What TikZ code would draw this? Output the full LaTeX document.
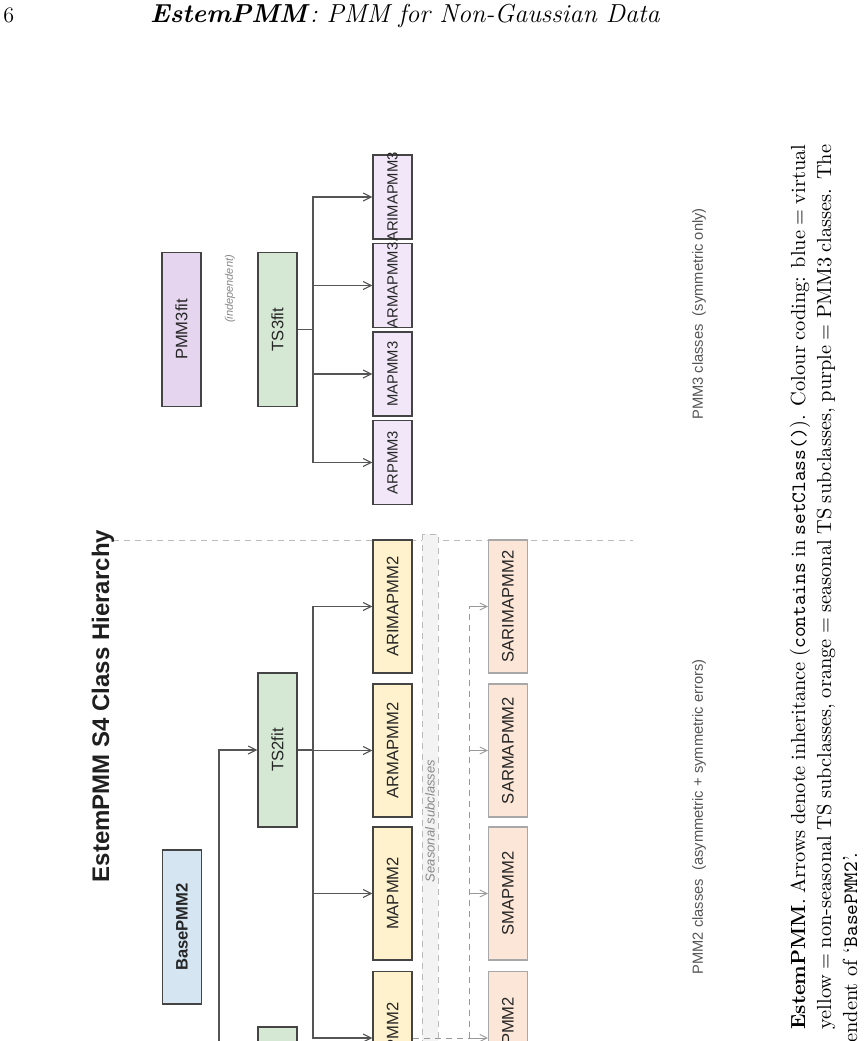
\documentclass[tikz,border=0pt]{standalone}
\usepackage{fontspec}
\newfontfamily\figsans{Liberation Sans}
\usetikzlibrary{arrows.meta}
\definecolor{cblue}{HTML}{D5E5F2}
\definecolor{cgreen}{HTML}{D5E8D4}
\definecolor{cyellow}{HTML}{FFF2CC}
\definecolor{cpurple}{HTML}{E6D5EE}
\definecolor{clav}{HTML}{F1E7F8}
\definecolor{corange}{HTML}{FCE6D7}
\definecolor{cline}{HTML}{555555}
\definecolor{cbox}{HTML}{444444}
\definecolor{cobox}{HTML}{A8A8A8}
\definecolor{cband}{HTML}{F3F3F3}
\definecolor{cbandline}{HTML}{BBBBBB}
\definecolor{cgraytext}{HTML}{888888}
\definecolor{clabel}{HTML}{555555}
\definecolor{csarr}{HTML}{999999}
\newcommand\zc[1]{\makebox[0pt]{#1}}
\begin{document}
\begin{tikzpicture}[x=0.5pt,y=-0.5pt,
  box/.style={draw=cbox, line width=0.65pt, rotate=90, inner sep=0pt,
    minimum height=19.5pt, text=black!85, font=\figsans\fontsize{8.3}{10}\selectfont},
  topb/.style={box, minimum width=77pt},
  midb/.style={box, fill=cgreen, minimum width=77pt},
  leaftwo/.style={box, fill=cyellow, minimum width=66.5pt},
  seasb/.style={box, fill=corange, draw=cobox, minimum width=66.5pt},
  leafthree/.style={box, fill=clav, minimum width=42pt, font=\figsans\fontsize{7.4}{9}\selectfont},
  arr/.style={draw=cline, line width=0.55pt, -{Straight Barb[length=4pt,width=4pt]}},
  conn/.style={draw=cline, line width=0.55pt},
  sdash/.style={draw=csarr, line width=0.45pt, dash pattern=on 3pt off 2.5pt},
  sarr/.style={draw=csarr, line width=0.45pt, -{Straight Barb[length=3.5pt,width=3.5pt]}},
  sepline/.style={draw=cbandline, line width=0.5pt, dash pattern=on 3pt off 2.5pt},
  band/.style={rotate=90, fill=cband, draw=cbandline, line width=0.45pt, dash pattern=on 3pt off 2.5pt,
    minimum width=287pt, minimum height=8pt, inner sep=0pt,
    font=\figsans\itshape\fontsize{6.5}{8}\selectfont, text=cgraytext},
  grouplabel/.style={rotate=90, inner sep=0pt, font=\figsans\fontsize{7.35}{9}\selectfont, text=clabel},
  capline/.style={rotate=90, anchor=base west, inner sep=0pt, font=\fontsize{10.2}{13}\selectfont}
]
\clip (0,0) rectangle (865,1041);
\fill[white] (0,0) rectangle (865,1041);

% page header
\node[anchor=base west, inner sep=0pt, font=\fontsize{11}{13}\selectfont] (pagenum) at (3,22) {6};
\node[anchor=base, inner sep=0pt, font=\fontsize{13}{15}\selectfont] (runhead) at (405,22)
  {\textbf{\textit{EstemPMM}}\textit{: PMM for Non-Gaussian Data}};

% separator
\coordinate (sepA) at (113,540);
\coordinate (sepB) at (633,540);
\draw[sepline] (sepA) -- (sepB);

% title
\node[rotate=90, inner sep=0pt, font=\figsans\bfseries\fontsize{12}{14}\selectfont, text=black!88] (title) at (103,706)
  {EstemPMM S4 Class Hierarchy};

% seasonal band
\node[band] (season) at (430,821) {Seasonal subclasses};

% top level
\node[topb, fill=cblue, font=\figsans\bfseries\fontsize{8.3}{10}\selectfont] (BasePMM2) at (182,927) {\zc{BasePMM2}};
\node[topb, fill=cpurple] (PMM3fit) at (181.5,329.5) {\zc{PMM3fit}};
\node[grouplabel, font=\figsans\itshape\fontsize{5.5}{7}\selectfont, text=cgraytext] (indep) at (230,289) {(independent)};

% second level
\node[midb] (TS2fit) at (277.5,750) {\zc{TS2fit}};
\node[midb] (PMM2fit) at (277.5,1104) {};
\node[midb] (TS3fit) at (277.5,329.5) {\zc{TS3fit}};

% PMM2 leaves
\node[leaftwo] (ARIMAPMM2) at (392.5,606.5) {\zc{ARIMAPMM2}};
\node[leaftwo] (ARMAPMM2) at (392.5,750.5) {\zc{ARMAPMM2}};
\node[leaftwo] (MAPMM2) at (392.5,893.5) {\zc{MAPMM2}};
\node[leaftwo] (ARPMM2) at (392.5,1038) {\zc{ARPMM2}};

% seasonal leaves
\node[seasb] (SARIMAPMM2) at (508,606.5) {\zc{SARIMAPMM2}};
\node[seasb] (SARMAPMM2) at (508,750.5) {\zc{SARMAPMM2}};
\node[seasb] (SMAPMM2) at (508,893.5) {\zc{SMAPMM2}};
\node[seasb] (SARPMM2) at (508,1038) {\zc{SARPMM2}};

% PMM3 leaves
\node[leafthree] (ARIMAPMM3) at (392.5,197) {\zc{ARIMAPMM3}};
\node[leafthree] (ARMAPMM3) at (392.5,285.5) {\zc{ARMAPMM3}};
\node[leafthree] (MAPMM3) at (392.5,374) {\zc{MAPMM3}};
\node[leafthree] (ARPMM3) at (392.5,462.5) {\zc{ARPMM3}};

% group labels
\node[grouplabel] (lab2) at (699,817) {PMM2 classes\ \ (asymmetric + symmetric errors)};
\node[grouplabel] (lab3) at (699,314) {PMM3 classes\ \ (symmetric only)};

% connectors from BasePMM2
\coordinate (busB) at (219,927);
\draw[arr] (busB) |- (TS2fit.north);
\draw[arr] (busB) |- (PMM2fit.north);

% connectors from TS2fit
\coordinate (busT) at (313,750);
\draw[conn] (TS2fit.south) -- (busT);
\foreach \n in {ARIMAPMM2,ARMAPMM2,MAPMM2,ARPMM2}
  \draw[arr] (busT) |- (\n.north);

% connectors from TS3fit
\coordinate (busU) at (313,329.5);
\draw[conn] (TS3fit.south) -- (busU);
\foreach \n in {ARIMAPMM3,ARMAPMM3,MAPMM3,ARPMM3}
  \draw[arr] (busU) |- (\n.north);

% seasonal connectors
\coordinate (busS) at (469,1038);
\draw[sdash] (ARPMM2.south) -- (busS);
\draw[sdash] (busS) -- (busS |- SARIMAPMM2.north);
\foreach \n in {SARIMAPMM2,SARMAPMM2,SMAPMM2,SARPMM2}
  \draw[sarr] (busS |- \n.north) -- (\n.north);

% caption (rotated)
\node[capline] (cap1) at (805,1030)
  {\makebox[442.5pt][s]{\textbf{EstemPMM}. Arrows denote inheritance (\texttt{contains} in \texttt{setClass()}). Colour coding: blue = virtual}};
\node[capline] (cap2) at (831,1030)
  {\makebox[442.5pt][s]{yellow = non-seasonal TS subclasses, orange = seasonal TS subclasses, purple = PMM3 classes. The}};
\node[capline] (cap3) at (857,1043)
  {endent of `\texttt{BasePMM2}'.};
\end{tikzpicture}
\end{document}
